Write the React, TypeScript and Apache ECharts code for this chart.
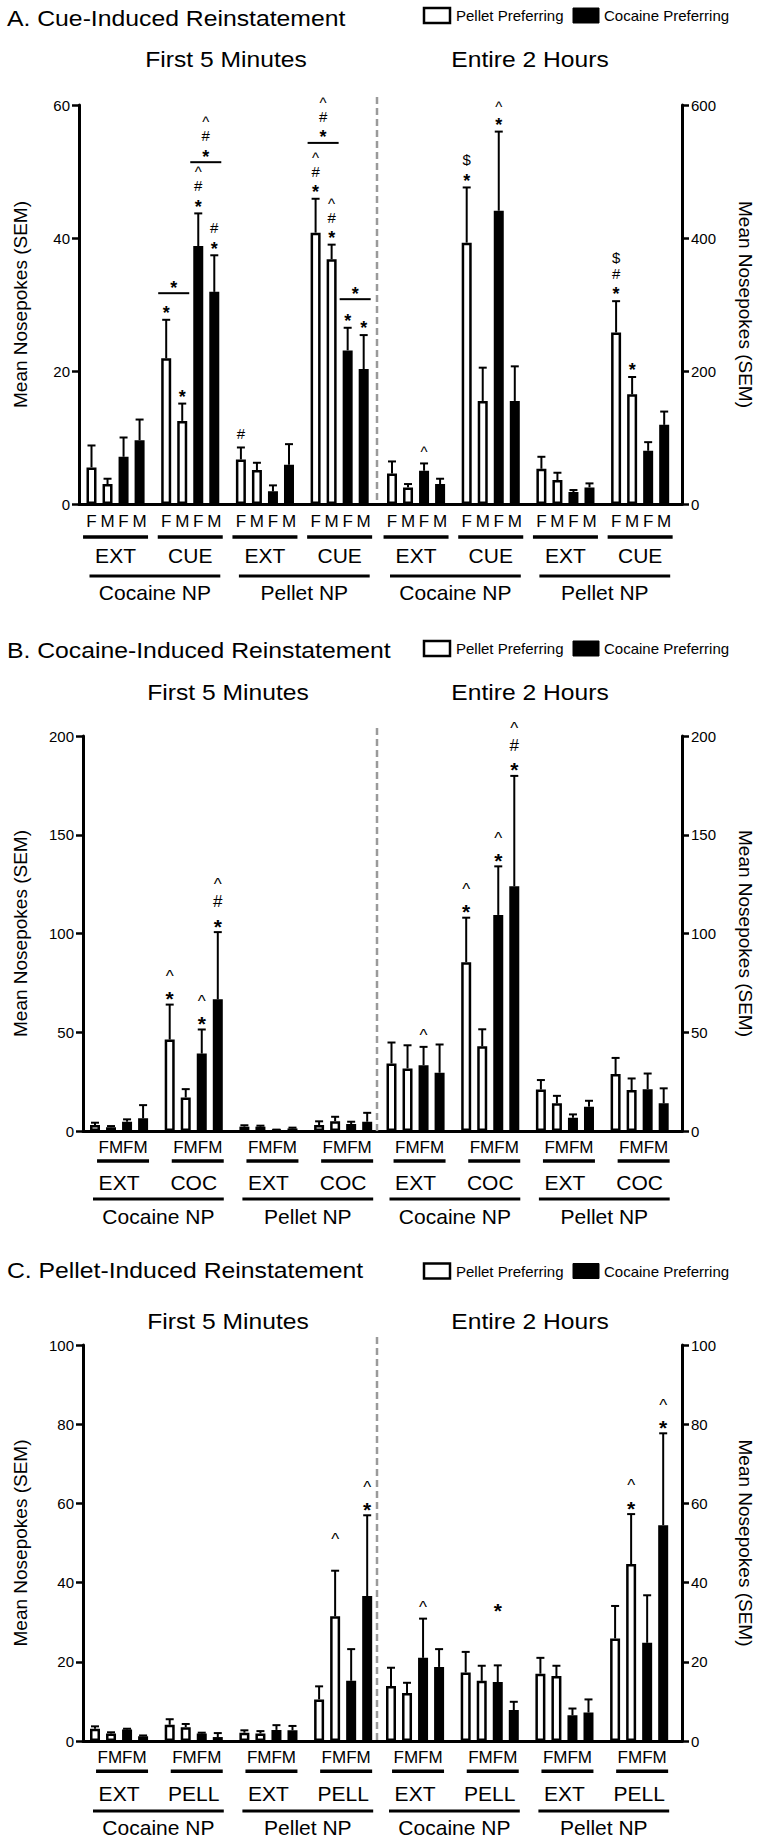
import React, { useEffect, useRef } from "react";
import * as echarts from "echarts";

// ---------- categories ----------
const SEXES = ["F", "M", "F", "M"];
const NP_LABELS = ["Cocaine NP", "Pellet NP"];
const CONDS_A = ["EXT", "CUE", "EXT", "CUE"];
const CONDS_B = ["EXT", "COC", "EXT", "COC"];
const CONDS_C = ["EXT", "PELL", "EXT", "PELL"];
const LEGEND_NAMES = ["Pellet Preferring", "Cocaine Preferring"];
const PANEL_TITLES = ["A. Cue-Induced Reinstatement", "B. Cocaine-Induced Reinstatement", "C. Pellet-Induced Reinstatement"];
const WINDOW_TITLES = ["First 5 Minutes", "Entire 2 Hours"];
const Y_NAME = "Mean Nosepokes (SEM)";

// bar order in each group: Pellet Preferring F, M, Cocaine Preferring F, M
// ---------- Panel A ----------
const A_FIRST5_MEAN = [5.5, 3.0, 7.1, 9.6, 21.9, 12.5, 38.8, 31.9, 6.7, 5.1, 1.9, 5.9, 40.8, 36.8, 23.1, 20.3];
const A_FIRST5_SEM = [3.3, 0.8, 2.9, 3.1, 5.8, 2.6, 4.9, 5.5, 1.8, 1.1, 0.9, 3.1, 5.1, 2.2, 3.4, 5.1];
const A_FIRST5_MARKS = ["", "", "", "", "*", "*", "*#^", "*#", "#", "", "", "", "*#^", "*#^", "*", "*"];
// [group, fromBar, toBar, value, marks]
const A_FIRST5_BRACKETS: [number, number, number, number, string][] = [
  [1, 0, 1, 31.7, "*"],
  [1, 2, 3, 51.4, "*#^"],
  [3, 0, 1, 54.3, "*#^"],
  [3, 2, 3, 30.8, "*"],
];
const A_2H_MEAN = [46, 25, 50, 30, 393, 155, 441, 155, 53, 36, 18, 25, 258, 165, 80, 119];
const A_2H_SEM = [18, 5, 11, 8, 83, 50, 119, 52, 18, 11, 3, 6, 47, 26, 13, 20];
const A_2H_MARKS = ["", "", "^", "", "*$", "", "*^", "", "", "", "", "", "*#$", "*", "", ""];

// ---------- Panel B ----------
const B_FIRST5_MEAN = [3.0, 1.9, 4.7, 6.4, 46.3, 17.0, 39.2, 66.7, 2.2, 2.2, 0.5, 1.3, 3.0, 5.0, 3.5, 4.7];
const B_FIRST5_SEM = [1.2, 0.6, 1.2, 6.7, 17.7, 4.2, 12.2, 34.0, 0.7, 0.5, 0.2, 0.4, 1.9, 2.2, 1.2, 4.5];
const B_FIRST5_MARKS = ["", "", "", "", "*^", "", "*^", "*#^", "", "", "", "", "", "", "", ""];
const B_2H_MEAN = [34.2, 31.7, 33.3, 29.5, 85.5, 42.9, 109.4, 123.9, 21.0, 14.0, 6.7, 12.3, 28.8, 20.7, 21.2, 14.0];
const B_2H_SEM = [10.6, 11.7, 9.3, 14.3, 22.5, 8.6, 24.6, 55.9, 4.8, 3.8, 1.7, 3.0, 8.2, 5.9, 7.9, 7.6];
const B_2H_MARKS = ["", "", "^", "", "*^", "", "*^", "*#^", "", "", "", "", "", "", "", ""];

// ---------- Panel C ----------
const C_FIRST5_MEAN = [3.1, 1.9, 2.9, 1.2, 4.1, 3.5, 1.9, 1.0, 2.1, 1.9, 2.8, 2.7, 10.5, 31.5, 15.2, 36.6];
const C_FIRST5_SEM = [0.6, 0.3, 0.2, 0.2, 1.4, 0.8, 0.2, 1.0, 0.6, 0.6, 1.2, 1.1, 3.3, 11.5, 8.0, 20.4];
const C_FIRST5_MARKS = ["", "", "", "", "", "", "", "", "", "", "", "", "", "", "", "*^"];
// [group, bar, value, mark]
const C_FIRST5_FLOATING: [number, number, number, string][] = [[3, 1, 51.5, "^"]];
const C_2H_MEAN = [13.9, 12.1, 21.0, 18.7, 17.3, 15.2, 14.9, 7.8, 17.0, 16.4, 6.5, 7.2, 25.9, 44.7, 24.8, 54.5];
const C_2H_SEM = [4.6, 2.6, 9.9, 4.5, 5.2, 3.8, 4.2, 2.1, 4.0, 2.6, 1.7, 3.3, 8.2, 12.6, 12.0, 23.2];
const C_2H_MARKS = ["", "", "^", "", "", "", "", "", "", "", "", "", "", "*^", "", "*^"];
const C_2H_FLOATING: [number, number, number, string][] = [[1, 2, 34.3, "*"]];

// ---------- layout ----------
const FONT = "'Liberation Sans', Arial, Helvetica, sans-serif";
const W = 760;
const H = 1843;
const DIVIDER_X = 377;
const RIGHT_AXIS_X = 682;
const PX_PER_SLOT = 16.03;
const GROUP_STRIDE = 4.66;
const pos = (j: number) => Math.floor(j / 4) * GROUP_STRIDE + (j % 4);

type Side = {
  mean: number[];
  sem: number[];
  marks: string[];
  brackets?: [number, number, number, number, string][];
  floating?: [number, number, number, string][];
  max: number;
  interval: number;
};

type MarkStyle = { stack: number; star: number; other: number };

const PANELS = [
  {
    title: PANEL_TITLES[0], titleY: 18, legendY: 15.5, subY: 59.5,
    top: 105, bottom: 504, axisX: 79, firstL: 91.5, firstR: 392,
    conds: CONDS_A, spaced: true, fm: 17, ul: 33, ulHalf: 32.5, ulShift: 0, cond: 51, npl: 72, npt: 88,
    mk: { stack: 16.5, star: 18, other: 15 } as MarkStyle,
    sides: [
      { mean: A_FIRST5_MEAN, sem: A_FIRST5_SEM, marks: A_FIRST5_MARKS, brackets: A_FIRST5_BRACKETS, max: 60, interval: 20 },
      { mean: A_2H_MEAN, sem: A_2H_SEM, marks: A_2H_MARKS, max: 600, interval: 200 },
    ] as Side[],
  },
  {
    title: PANEL_TITLES[1], titleY: 650, legendY: 648.5, subY: 692.5,
    top: 736, bottom: 1131, axisX: 83, firstL: 95, firstR: 391.5,
    conds: CONDS_B, spaced: false, fm: 16, ul: 30, ulHalf: 26, ulShift: 4, cond: 51, npl: 68, npt: 85,
    mk: { stack: 19.5, star: 21, other: 17 } as MarkStyle,
    sides: [
      { mean: B_FIRST5_MEAN, sem: B_FIRST5_SEM, marks: B_FIRST5_MARKS, max: 200, interval: 50 },
      { mean: B_2H_MEAN, sem: B_2H_SEM, marks: B_2H_MARKS, max: 200, interval: 50 },
    ] as Side[],
  },
  {
    title: PANEL_TITLES[2], titleY: 1270, legendY: 1271, subY: 1321,
    top: 1345, bottom: 1741, axisX: 83, firstL: 95, firstR: 391,
    conds: CONDS_C, spaced: false, fm: 16.3, ul: 30.3, ulHalf: 26, ulShift: 3, cond: 52.3, npl: 70, npt: 86,
    mk: { stack: 20, star: 21, other: 17 } as MarkStyle,
    sides: [
      { mean: C_FIRST5_MEAN, sem: C_FIRST5_SEM, marks: C_FIRST5_MARKS, floating: C_FIRST5_FLOATING, max: 100, interval: 20 },
      { mean: C_2H_MEAN, sem: C_2H_SEM, marks: C_2H_MARKS, floating: C_2H_FLOATING, max: 100, interval: 20 },
    ] as Side[],
  },
];

// vertical offset (in em) between a glyph's ink centre and the text's middle anchor
const ADJ_EM: Record<string, number> = { "*": 0.24, "^": 0.16, "#": 0, $: 0 };

function glyph(c: string, x: number, gy: number, mk: MarkStyle) {
  const star = c === "*";
  const fs = star ? mk.star : mk.other;
  return {
    type: "text",
    x,
    y: gy + (ADJ_EM[c] ?? 0) * fs,
    style: {
      text: c,
      fill: "#000",
      fontSize: fs,
      fontWeight: star ? "bold" : "normal",
      fontFamily: FONT,
      align: "center",
      verticalAlign: "middle",
    },
  };
}

function markEls(str: string, x: number, yTop: number, mk: MarkStyle) {
  if (!str) return [];
  const chars = str.split("");
  const first = chars[0] === "*" ? 11 : 14;
  return chars.map((c, k) => glyph(c, x, yTop - first - k * mk.stack, mk));
}

function txt(text: string, x: number, y: number, fontSize: number, align: string, extra: any = {}) {
  return {
    type: "text",
    x,
    y,
    ...extra,
    style: { text, fill: "#000", fontSize, fontFamily: FONT, align, verticalAlign: "middle" },
  };
}

function line(x1: number, y1: number, x2: number, y2: number, w: number, extra: any = {}) {
  return { type: "line", shape: { x1, y1, x2, y2 }, style: { stroke: "#000", lineWidth: w, ...extra } };
}

function buildOption() {
  const grid: any[] = [];
  const xAxis: any[] = [];
  const yAxis: any[] = [];
  const series: any[] = [];
  const graphic: any[] = [];

  PANELS.forEach((P, p) => {
    const mk = P.mk;
    P.sides.forEach((S, s) => {
      const k = p * 2 + s;
      const gl = s === 0 ? P.axisX : DIVIDER_X;
      const gw = s === 0 ? DIVIDER_X - P.axisX : RIGHT_AXIS_X - DIVIDER_X;
      const first = s === 0 ? P.firstL : P.firstR;
      const xmin = -(first - gl) / PX_PER_SLOT;
      const xmax = xmin + gw / PX_PER_SLOT;
      grid.push({ left: gl, top: P.top, width: gw, height: P.bottom - P.top });
      xAxis.push({
        type: "value",
        gridIndex: k,
        min: xmin,
        max: xmax,
        axisLine: { show: true, onZero: false, lineStyle: { color: "#000", width: 3 } },
        axisTick: { show: false },
        axisLabel: { show: false },
        splitLine: { show: false },
      });
      yAxis.push({
        type: "value",
        gridIndex: k,
        min: 0,
        max: S.max,
        interval: S.interval,
        position: s === 0 ? "left" : "right",
        axisLine: { show: true, onZero: false, lineStyle: { color: "#000", width: 3 } },
        axisTick: { show: true, length: 7, lineStyle: { color: "#000", width: 2.5 } },
        axisLabel: { color: "#000", fontSize: 15, fontFamily: FONT, margin: 9 },
        splitLine: { show: false },
      });

      // bars
      series.push({
        type: "bar",
        name: WINDOW_TITLES[s],
        xAxisIndex: k,
        yAxisIndex: k,
        barWidth: 10,
        data: S.mean.map((m, j) => ({
          value: [pos(j), m],
          name: LEGEND_NAMES[j % 4 < 2 ? 0 : 1] + " " + SEXES[j % 4],
          itemStyle:
            j % 4 < 2
              ? { color: "#fff", borderColor: "#000", borderWidth: 2.5 }
              : { color: "#000", borderColor: "#000", borderWidth: 2.5 },
        })),
      });

      // error bars + marks
      const marks = S.marks;
      series.push({
        type: "custom",
        xAxisIndex: k,
        yAxisIndex: k,
        clip: false,
        data: S.mean.map((m, j) => [pos(j), m, m + S.sem[j]]),
        renderItem: (params: any, api: any) => {
          const j = params.dataIndex;
          const x = api.value(0);
          const p1 = api.coord([x, api.value(1)]);
          const p2 = api.coord([x, api.value(2)]);
          const children: any[] = [
            line(p1[0], p1[1], p2[0], p2[1], 2),
            line(p2[0] - 4, p2[1], p2[0] + 4, p2[1], 2),
          ];
          children.push(...markEls(marks[j], p2[0], p2[1], mk));
          return { type: "group", children };
        },
      });

      // significance brackets
      if (S.brackets) {
        const br = S.brackets;
        series.push({
          type: "custom",
          xAxisIndex: k,
          yAxisIndex: k,
          clip: false,
          data: br.map((b) => [pos(b[0] * 4 + b[1]), pos(b[0] * 4 + b[2]), b[3]]),
          renderItem: (params: any, api: any) => {
            const b = br[params.dataIndex];
            const a1 = api.coord([api.value(0), api.value(2)]);
            const a2 = api.coord([api.value(1), api.value(2)]);
            const x1 = a1[0] - 8;
            const x2 = a2[0] + 7;
            return {
              type: "group",
              children: [line(x1, a1[1], x2, a1[1], 2), ...markEls(b[4], (x1 + x2) / 2, a1[1] + 1, mk)],
            };
          },
        });
      }

      // floating marks
      if (S.floating) {
        const fl = S.floating;
        series.push({
          type: "custom",
          xAxisIndex: k,
          yAxisIndex: k,
          clip: false,
          data: fl.map((f) => [pos(f[0] * 4 + f[1]), f[2]]),
          renderItem: (params: any, api: any) => {
            const f = fl[params.dataIndex];
            const c = api.coord([api.value(0), api.value(1)]);
            return glyph(f[3], c[0], c[1], mk);
          },
        });
      }

      // group labels (F M F M, underline, condition)
      series.push({
        type: "custom",
        xAxisIndex: k,
        yAxisIndex: k,
        clip: false,
        silent: true,
        data: P.conds.map((_, g) => [pos(g * 4), pos(g * 4 + 3)]),
        renderItem: (params: any, api: any) => {
          const g = params.dataIndex;
          const cs = [0, 1, 2, 3].map((i) => api.coord([pos(g * 4 + i), 0]));
          const y0 = cs[0][1];
          const cx = (cs[0][0] + cs[3][0]) / 2;
          const children: any[] = [];
          if (P.spaced) {
            SEXES.forEach((sx, i) => children.push(txt(sx, cs[i][0], y0 + P.fm, 17, "center")));
          } else {
            children.push(txt(SEXES.join(""), cx + P.ulShift, y0 + P.fm, 17, "center"));
          }
          children.push(line(cx + P.ulShift - P.ulHalf, y0 + P.ul, cx + P.ulShift + P.ulHalf, y0 + P.ul, 3.5));
          children.push(txt(P.conds[g], cx, y0 + P.cond, 21, "center"));
          return { type: "group", children };
        },
      });

      // nosepoke labels
      series.push({
        type: "custom",
        xAxisIndex: k,
        yAxisIndex: k,
        clip: false,
        silent: true,
        data: NP_LABELS.map((_, h) => [pos(h * 8), pos(h * 8 + 7)]),
        renderItem: (params: any, api: any) => {
          const h = params.dataIndex;
          const a1 = api.coord([api.value(0), 0]);
          const a2 = api.coord([api.value(1), 0]);
          const x1 = a1[0] - 2;
          const x2 = a2[0] + 6;
          return {
            type: "group",
            children: [
              line(x1, a1[1] + P.npl, x2, a1[1] + P.npl, 3),
              txt(NP_LABELS[h], (x1 + x2) / 2, a1[1] + P.npt, 21, "center"),
            ],
          };
        },
      });
    });

    // panel decorations
    const midY = (P.top + P.bottom) / 2;
    graphic.push(txt(P.title, 7, P.titleY, 22.5, "left", { scaleX: 1.1 }));
    graphic.push({
      type: "rect",
      shape: { x: 424, y: P.legendY - 7.5, width: 26, height: 15 },
      style: { fill: "#fff", stroke: "#000", lineWidth: 2.5 },
    });
    graphic.push(txt(LEGEND_NAMES[0], 456, P.legendY, 15, "left"));
    graphic.push({
      type: "rect",
      shape: { x: 573, y: P.legendY - 7.5, width: 26, height: 15 },
      style: { fill: "#000", stroke: "#000", lineWidth: 1 },
    });
    graphic.push(txt(LEGEND_NAMES[1], 604, P.legendY, 15, "left"));
    graphic.push(txt(WINDOW_TITLES[0], (P.axisX + DIVIDER_X) / 2 - 2, P.subY, 22, "center", { scaleX: 1.12 }));
    graphic.push(txt(WINDOW_TITLES[1], 530, P.subY, 22, "center", { scaleX: 1.12 }));
    graphic.push(txt(Y_NAME, 20, midY, 19, "center", { rotation: Math.PI / 2 }));
    graphic.push(txt(Y_NAME, 745, midY, 19, "center", { rotation: -Math.PI / 2 }));
    graphic.push({
      type: "line",
      shape: { x1: DIVIDER_X, y1: P.top - 8, x2: DIVIDER_X, y2: P.bottom },
      style: { stroke: "#9a9a9a", lineWidth: 2.5, lineDash: [7, 4] },
      z: 10,
    });
  });

  return {
    animation: false,
    backgroundColor: "#fff",
    textStyle: { fontFamily: FONT },
    grid,
    xAxis,
    yAxis,
    series,
    graphic,
  };
}

export default function App() {
  const ref = useRef<HTMLDivElement>(null);
  useEffect(() => {
    document.body.style.margin = "0";
    if (!ref.current) return;
    const chart = echarts.init(ref.current, undefined, { renderer: "svg", width: W, height: H });
    chart.setOption(buildOption() as any);
    return () => chart.dispose();
  }, []);
  return <div ref={ref} style={{ width: W, height: H }} />;
}
